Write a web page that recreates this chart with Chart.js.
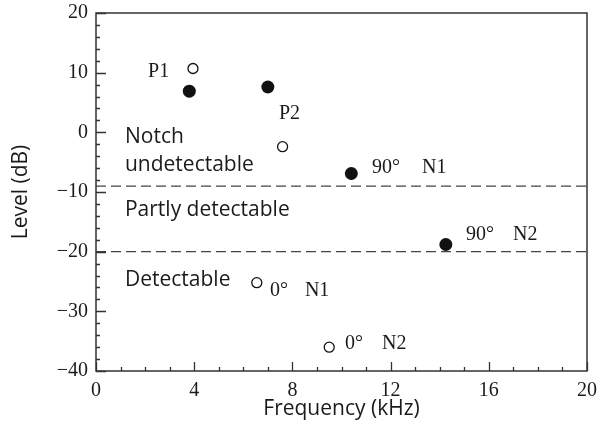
<!DOCTYPE html>
<html>
<head>
<meta charset="utf-8">
<script src="https://cdn.jsdelivr.net/npm/chart.js@4/dist/chart.umd.min.js"></script>
<style>
  html, body { margin: 0; padding: 0; background: #fff; }
  #wrap { width: 606px; height: 441px; }
</style>
</head>
<body>
<div id="wrap"><canvas id="chart"></canvas></div>
<script>
// open circles (0° measurements and P1/P2)
const openX = [3.95, 7.6, 6.55, 9.5];
const openY = [10.7, -2.4, -25.2, -36.0];
// filled circles (90° measurements)
const filledX = [3.8, 7.0, 10.4, 14.25];
const filledY = [6.9, 7.6, -6.9, -18.8];
// detection thresholds (dB)
const thresholds = [-9, -20];
const xTicks = [0, 4, 8, 12, 16, 20];
const yTicks = [-40, -30, -20, -10, 0, 10, 20];

// text notes placed in data units
const serifNotes = [
    { text: 'P1', x: 2.12, y: 10.1 },
    { text: 'P2', x: 7.45, y: 3.1 },
    { text: '90°', x: 11.24, y: -6.0 },
    { text: 'N1', x: 13.28, y: -6.0 },
    { text: '90°', x: 15.07, y: -17.2 },
    { text: 'N2', x: 16.99, y: -17.2 },
    { text: '0°', x: 7.09, y: -26.6 },
    { text: 'N1', x: 8.51, y: -26.6 },
    { text: '0°', x: 10.14, y: -35.5 },
    { text: 'N2', x: 11.65, y: -35.5 }
];
const sansNotes = [
    { text: 'Notch', x: 1.18, y: -0.8 },
    { text: 'undetectable', x: 1.18, y: -5.5 },
    { text: 'Partly detectable', x: 1.18, y: -13.0 },
    { text: 'Detectable', x: 1.18, y: -24.7 }
];

const serif = "'Liberation Serif', 'DejaVu Serif', serif";
const sans = "'Open Sans', 'Liberation Sans', sans-serif";

function toPoints(xs, ys) {
    return xs.map((x, i) => ({ x: x, y: ys[i] }));
}

// inward ticks, frame and text notes
const decorPlugin = {
    id: 'decor',
    afterDatasetsDraw(chart) {
        const ctx = chart.ctx;
        const xs = chart.scales.x;
        const ys = chart.scales.y;
        const a = chart.chartArea;
        ctx.save();
        ctx.strokeStyle = '#333';
        ctx.lineWidth = 1.5;
        ctx.strokeRect(a.left, a.top, a.right - a.left, a.bottom - a.top);

        ctx.lineWidth = 1.3;
        ctx.beginPath();
        for (let v = 0; v <= 20; v += 1) {
            const px = Math.round(xs.getPixelForValue(v)) + 0.5;
            const len = v % 4 === 0 ? 9 : 4;
            ctx.moveTo(px, a.bottom);
            ctx.lineTo(px, a.bottom - len);
        }
        for (let v = -40; v <= 20; v += 2) {
            const py = Math.round(ys.getPixelForValue(v)) + 0.5;
            const len = v % 10 === 0 ? 10 : 4;
            ctx.moveTo(a.left, py);
            ctx.lineTo(a.left + len, py);
        }
        ctx.stroke();

        ctx.fillStyle = '#1a1a1a';
        ctx.textAlign = 'left';
        ctx.textBaseline = 'middle';
        ctx.font = '20px ' + serif;
        serifNotes.forEach(n => {
            ctx.fillText(n.text, xs.getPixelForValue(n.x), ys.getPixelForValue(n.y));
        });
        ctx.font = '21px ' + sans;
        sansNotes.forEach(n => {
            ctx.fillText(n.text, xs.getPixelForValue(n.x), ys.getPixelForValue(n.y));
        });
        ctx.restore();
    }
};

const thresholdSets = thresholds.map(t => ({
    type: 'line',
    data: [{ x: 0, y: t }, { x: 20, y: t }],
    borderColor: '#444',
    borderWidth: 1.3,
    borderDash: [10, 5],
    pointRadius: 0,
    fill: false
}));

new Chart(document.getElementById('chart'), {
    type: 'scatter',
    data: {
        datasets: [
            ...thresholdSets,
            {
                label: '90°',
                data: toPoints(filledX, filledY),
                pointStyle: 'circle',
                pointRadius: 6.5,
                backgroundColor: '#111',
                borderColor: '#111',
                borderWidth: 0
            },
            {
                label: '0°',
                data: toPoints(openX, openY),
                pointStyle: 'circle',
                pointRadius: 5,
                backgroundColor: '#fff',
                borderColor: '#111',
                borderWidth: 1.3
            }
        ]
    },
    options: {
        responsive: true,
        maintainAspectRatio: false,
        animation: false,
        layout: { padding: { left: 0, right: 19, top: 13, bottom: 0 } },
        plugins: {
            legend: { display: false },
            tooltip: { enabled: false }
        },
        scales: {
            x: {
                type: 'linear',
                min: 0,
                max: 20,
                afterFit: s => {
                    s.height = 70;
                    s.paddingLeft = 0;
                    s.paddingRight = 0;
                },
                afterBuildTicks: s => { s.ticks = xTicks.map(v => ({ value: v })); },
                grid: { display: false, drawTicks: false },
                border: { display: false },
                ticks: {
                    padding: 8,
                    color: '#1a1a1a',
                    font: { family: serif, size: 20 }
                },
                title: {
                    display: true,
                    text: 'Frequency (kHz)',
                    color: '#1a1a1a',
                    font: { family: sans, size: 21 },
                    padding: { top: 0, bottom: 19 }
                }
            },
            y: {
                type: 'linear',
                min: -40,
                max: 20,
                afterFit: s => {
                    s.width = 96;
                    s.paddingTop = 0;
                    s.paddingBottom = 0;
                },
                afterBuildTicks: s => { s.ticks = yTicks.map(v => ({ value: v })); },
                grid: { display: false, drawTicks: false },
                border: { display: false },
                ticks: {
                    padding: 8,
                    color: '#1a1a1a',
                    font: { family: serif, size: 20 },
                    callback: v => String(v).replace('-', '\u2212')
                },
                title: {
                    display: true,
                    text: 'Level (dB)',
                    color: '#1a1a1a',
                    font: { family: sans, size: 21 },
                    padding: { top: 8, bottom: 0 }
                }
            }
        }
    },
    plugins: [decorPlugin]
});
</script>
</body>
</html>
